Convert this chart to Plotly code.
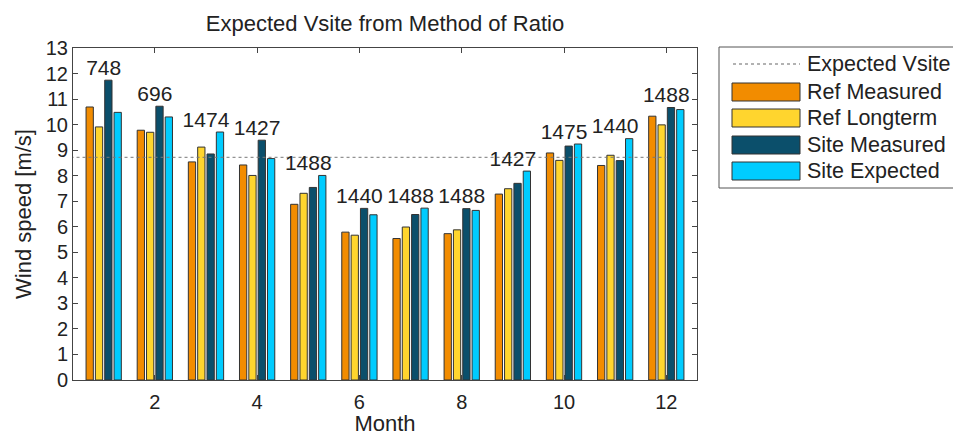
import plotly.graph_objects as go

months = list(range(1, 13))
ref_measured = [10.69, 9.78, 8.54, 8.42, 6.88, 5.79, 5.54, 5.73, 7.28, 8.89, 8.40, 10.33]
ref_longterm = [9.91, 9.70, 9.12, 8.01, 7.31, 5.67, 5.99, 5.88, 7.49, 8.60, 8.80, 9.99]
site_measured = [11.74, 10.72, 8.85, 9.39, 7.54, 6.72, 6.48, 6.71, 7.70, 9.16, 8.59, 10.67]
site_expected = [10.48, 10.30, 9.71, 8.67, 8.01, 6.47, 6.73, 6.64, 8.18, 9.24, 9.45, 10.59]
hours = ["748", "696", "1474", "1427", "1488", "1440", "1488", "1488", "1427", "1475", "1440", "1488"]
expected_vsite = 8.72
line_x = [0, 12]

series_names = ["Ref Measured", "Ref Longterm", "Site Measured", "Site Expected"]
series_colors = ["#F28C00", "#FFD52E", "#0B4F6B", "#00CCFF"]
series_values = [ref_measured, ref_longterm, site_measured, site_expected]

FONT = "Liberation Sans, Arial, sans-serif"
W, H = 953, 436
ML, MR, MT, MB = 73, 256, 48, 56
PW, PH = W - ML - MR, H - MT - MB


def px(x):
    return (x - ML) / PW


def py(y):
    return (H - MB - y) / PH


fig = go.Figure()
for name, color, vals in zip(series_names, series_colors, series_values):
    fig.add_trace(go.Bar(x=months, y=vals, name=name, showlegend=False,
                         marker=dict(color=color, line=dict(color="#333333", width=1))))

fig.add_trace(go.Scatter(x=line_x, y=[expected_vsite, expected_vsite], mode="lines",
                         line=dict(color="#777777", width=1, dash="dot"),
                         name="Expected Vsite", showlegend=False))

group_max = [max(v) for v in zip(*series_values)]
fig.add_trace(go.Scatter(x=months, y=group_max, mode="text", text=hours,
                         textposition="top center", showlegend=False,
                         textfont=dict(family=FONT, size=21, color="#222222"),
                         cliponaxis=False))

# Custom legend (layout decoration)
LEG_FONT = 21.5
shapes = [dict(type="rect", xref="paper", yref="paper", x0=px(719), x1=px(975),
               y0=py(188), y1=py(47), line=dict(color="#555555", width=1),
               fillcolor="white", layer="above")]
annotations = []
rows = [64, 92, 118, 145, 171]
shapes.append(dict(type="line", xref="paper", yref="paper", x0=px(733), x1=px(800),
                   y0=py(rows[0]), y1=py(rows[0]), line=dict(color="#999999", width=1.5, dash="dot"),
                   layer="above"))
annotations.append(dict(xref="paper", yref="paper", x=px(805), y=py(rows[0]), text="Expected Vsite",
                        showarrow=False, xanchor="left", yanchor="middle",
                        font=dict(family=FONT, size=LEG_FONT, color="#222222")))
for name, color, r in zip(series_names, series_colors, rows[1:]):
    shapes.append(dict(type="rect", xref="paper", yref="paper", x0=px(732), x1=px(800),
                       y0=py(r + 9), y1=py(r - 9), fillcolor=color,
                       line=dict(color="#333333", width=1), layer="above"))
    annotations.append(dict(xref="paper", yref="paper", x=px(805), y=py(r), text=name,
                            showarrow=False, xanchor="left", yanchor="middle",
                            font=dict(family=FONT, size=LEG_FONT, color="#222222")))

fig.update_layout(
    width=W, height=H,
    margin=dict(l=ML, r=MR, t=MT, b=MB, autoexpand=False),
    paper_bgcolor="white", plot_bgcolor="white",
    barmode="group", bargap=0.27, bargroupgap=0.22,
    font=dict(family=FONT, size=20, color="#222222"),
    title=dict(text="Expected Vsite from Method of Ratio", x=385 / W, xanchor="center",
               y=1 - 23 / H, yanchor="middle", yref="container",
               font=dict(family=FONT, size=22, color="#222222")),
    shapes=shapes, annotations=annotations,
)
fig.update_xaxes(range=[0.4, 12.6], tickvals=[2, 4, 6, 8, 10, 12], ticks="inside", ticklen=5,
                 tickcolor="#444444", showline=True, linecolor="#444444", linewidth=1,
                 mirror="allticks", showgrid=False, zeroline=False, ticklabelstandoff=4,
                 title=dict(text="Month", standoff=2, font=dict(size=22)),
                 tickfont=dict(size=20))
fig.update_yaxes(range=[0, 13], dtick=1, ticks="inside", ticklen=5,
                 tickcolor="#444444", showline=True, linecolor="#444444", linewidth=1,
                 mirror="allticks", showgrid=False, zeroline=False,
                 title=dict(text="Wind speed [m/s]", standoff=8, font=dict(size=22)),
                 tickfont=dict(size=20))

fig.write_html("out.html", post_script="document.body.style.margin='0px';",
               config={"displayModeBar": False})
